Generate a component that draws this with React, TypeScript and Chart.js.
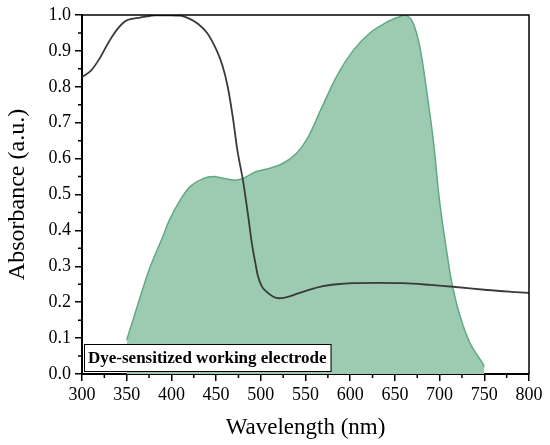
import React, { useEffect, useRef } from 'react';
import { Chart, registerables } from 'chart.js';

Chart.register(...registerables);

// dark trace: working electrode absorbance
const electrodeWavelengths = [
  300, 310, 320, 330, 340, 350, 365, 385, 410, 420, 430, 440, 450, 457, 463,
  469, 474, 480, 486, 490, 494, 497, 501, 505, 514, 521, 533, 547, 566, 585,
  603, 630, 659, 690, 715, 753, 780, 800,
];
const electrodeAbsorbance = [
  0.827, 0.845, 0.88, 0.925, 0.962, 0.985, 0.993, 1.0, 0.998, 0.99, 0.975,
  0.95, 0.905, 0.86, 0.8, 0.71, 0.62, 0.54, 0.438, 0.364, 0.308, 0.271, 0.245,
  0.232, 0.215, 0.211, 0.217, 0.229, 0.243, 0.25, 0.253, 0.254, 0.253, 0.248,
  0.243, 0.234, 0.229, 0.226,
];

// green band: dye absorbance
const dyeWavelengths = [
  350, 357, 375, 390, 398, 410, 421, 436, 447, 458, 471, 480, 495, 510, 525,
  540, 553, 566, 585, 603, 622, 641, 655, 662, 670, 678, 686, 693, 700, 708,
  714, 723, 734, 748, 750,
];
const dyeAbsorbance = [
  0.095, 0.15, 0.29, 0.38, 0.43, 0.485, 0.522, 0.545, 0.55, 0.545, 0.54,
  0.545, 0.564, 0.573, 0.587, 0.615, 0.66, 0.73, 0.83, 0.9, 0.95, 0.98, 0.995,
  1.0, 0.98, 0.91, 0.78, 0.65, 0.48, 0.34, 0.25, 0.16, 0.086, 0.03, 0.02,
];

const xMin = 300;
const xMax = 800;
const xStep = 50;
const yMin = 0;
const yMax = 1;
const yStep = 0.1;
const boxLabel = 'Dye-sensitized working electrode';

const serif = '"Liberation Serif", "Times New Roman", serif';

const framePlugin = {
  id: 'frame',
  afterDraw(chart: any) {
    const { ctx, chartArea, scales } = chart;
    const { left, right, top, bottom } = chartArea;
    ctx.save();
    ctx.strokeStyle = '#000';
    ctx.lineWidth = 1.5;
    ctx.beginPath();
    ctx.moveTo(left, top);
    ctx.lineTo(right, top);
    ctx.lineTo(right, bottom);
    ctx.stroke();

    // minor ticks
    ctx.beginPath();
    for (let v = xMin + xStep / 2; v < xMax; v += xStep) {
      const px = scales.x.getPixelForValue(v);
      ctx.moveTo(px, bottom);
      ctx.lineTo(px, bottom + 4);
    }
    for (let v = yMin + yStep / 2; v < yMax; v += yStep) {
      const py = scales.y.getPixelForValue(v);
      ctx.moveTo(left, py);
      ctx.lineTo(left - 4, py);
    }
    ctx.stroke();

    // label box
    ctx.font = `bold 17px ${serif}`;
    const w = ctx.measureText(boxLabel).width + 8;
    const h = 27;
    const bx = left + 2;
    const by = bottom - 3 - h;
    ctx.fillStyle = '#fff';
    ctx.fillRect(bx, by, w, h);
    ctx.lineWidth = 1;
    ctx.strokeRect(bx + 0.5, by + 0.5, w, h);
    ctx.fillStyle = '#000';
    ctx.textBaseline = 'middle';
    ctx.fillText(boxLabel, bx + 4, by + h / 2 + 1);
    ctx.restore();
  },
};

const App = () => {
  const canvasRef = useRef<HTMLCanvasElement>(null);
  const chartRef = useRef<Chart | null>(null);

  useEffect(() => {
    document.body.style.margin = '0';
    if (chartRef.current) chartRef.current.destroy();
    const ctx = canvasRef.current!.getContext('2d')!;

    chartRef.current = new Chart(ctx, {
      type: 'line',
      data: {
        datasets: [
          {
            label: 'Working electrode',
            data: electrodeWavelengths.map((x, i) => ({ x, y: electrodeAbsorbance[i] })),
            borderColor: '#3a3a3a',
            borderWidth: 1.8,
            pointRadius: 0,
            fill: false,
            tension: 0.35,
          },
          {
            label: 'Dye',
            data: dyeWavelengths.map((x, i) => ({ x, y: dyeAbsorbance[i] })),
            borderColor: '#62a983',
            backgroundColor: '#9ccbb1',
            borderWidth: 1.5,
            pointRadius: 0,
            fill: 'origin',
            tension: 0.35,
          },
        ],
      },
      options: {
        responsive: false,
        animation: false,
        layout: { padding: { top: 15, right: 21, left: 0, bottom: 0 } },
        plugins: {
          legend: { display: false },
          tooltip: { enabled: false },
        },
        scales: {
          x: {
            type: 'linear',
            min: xMin,
            max: xMax,
            afterFit: (scale: any) => {
              scale.height = 71;
            },
            ticks: {
              stepSize: xStep,
              color: '#000',
              padding: 3,
              font: { family: serif, size: 18 },
            },
            grid: { drawOnChartArea: false, tickLength: 7, color: '#000', lineWidth: 1.5 },
            border: { color: '#000', width: 2 },
            title: {
              display: true,
              text: 'Wavelength (nm)',
              color: '#000',
              padding: { top: 0, bottom: 3 },
              font: { family: serif, size: 23 },
            },
          },
          y: {
            min: yMin,
            max: yMax,
            afterFit: (scale: any) => {
              scale.width = 82;
            },
            ticks: {
              stepSize: yStep,
              color: '#000',
              padding: 4,
              font: { family: serif, size: 18 },
              callback: (v: any) => Number(v).toFixed(1),
            },
            grid: { drawOnChartArea: false, tickLength: 7, color: '#000', lineWidth: 1.5 },
            border: { color: '#000', width: 2 },
            title: {
              display: true,
              text: 'Absorbance (a.u.)',
              color: '#000',
              padding: { top: 3, bottom: 0 },
              font: { family: serif, size: 24 },
            },
          },
        },
      },
      plugins: [framePlugin],
    });

    return () => {
      if (chartRef.current) {
        chartRef.current.destroy();
        chartRef.current = null;
      }
    };
  }, []);

  return (
    <div style={{ width: 550, height: 445 }}>
      <canvas ref={canvasRef} width={550} height={445}></canvas>
    </div>
  );
};

export default App;
